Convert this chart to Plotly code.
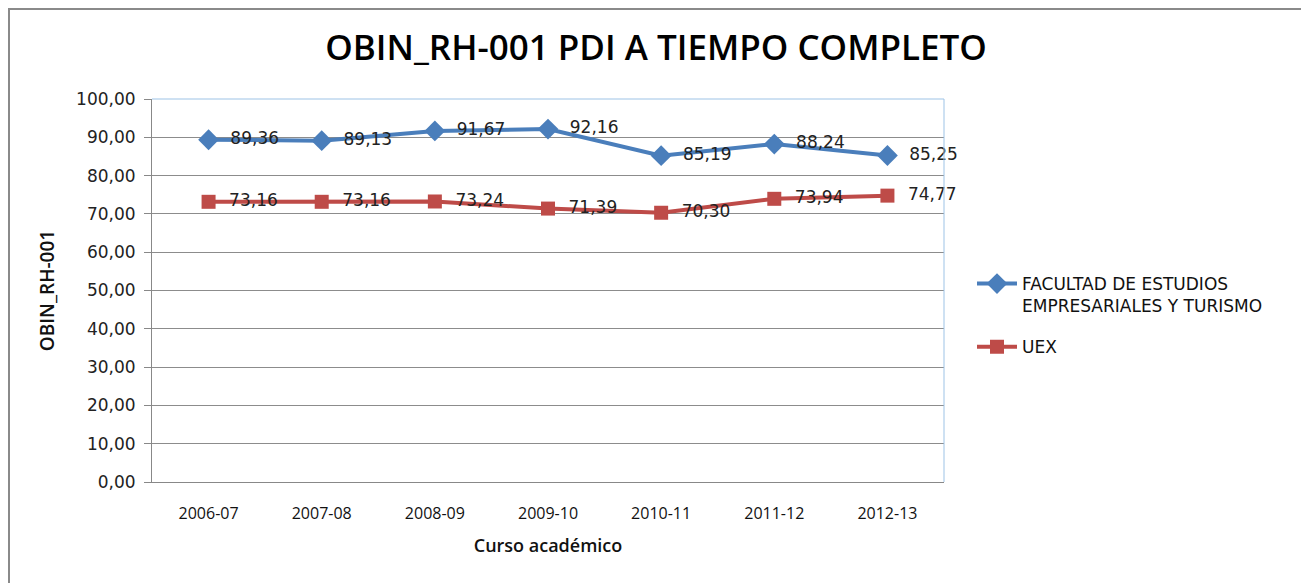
import plotly.graph_objects as go

categories = ["2006-07", "2007-08", "2008-09", "2009-10", "2010-11", "2011-12", "2012-13"]
facultad = [89.36, 89.13, 91.67, 92.16, 85.19, 88.24, 85.25]
uex = [73.16, 73.16, 73.24, 71.39, 70.30, 73.94, 74.77]
y_ticks = [0, 10, 20, 30, 40, 50, 60, 70, 80, 90, 100]

# page body margin offsets the figure by 8px
OFF = 8
W, H = 1309 - OFF, 583 - OFF
L, R, T, B = 152 - OFF, 944 - OFF, 99 - OFF, 482 - OFF

def px_x(x):
    return (x - OFF - L) / (R - L)

def px_y(y):
    return (B - (y - OFF)) / (B - T)

label_font = dict(family="DejaVu Sans", size=17, color="#222")

fig = go.Figure()
fig.add_trace(go.Scatter(
    x=categories, y=facultad, mode="lines+markers+text",
    name="FACULTAD DE ESTUDIOS<br>EMPRESARIALES Y TURISMO",
    legendgroup="a",
    line=dict(color="#4a7ebb", width=4),
    marker=dict(symbol="diamond", size=16, color="#4a7ebb"),
    texttemplate="  %{y:.2f}", textposition="middle right",
    textfont=label_font, cliponaxis=False,
))
fig.add_trace(go.Scatter(
    x=categories, y=uex, mode="lines+markers+text",
    name="UEX",
    legendgroup="b",
    line=dict(color="#be4b48", width=4),
    marker=dict(symbol="square", size=14, color="#be4b48"),
    texttemplate="  %{y:.2f}", textposition="middle right",
    textfont=label_font, cliponaxis=False,
))

fig.update_layout(
    width=W, height=H,
    margin=dict(l=L, r=W - R, t=T, b=H - B, pad=0),
    separators=",.",
    paper_bgcolor="white", plot_bgcolor="white",
    title=dict(text="OBIN_RH-001 PDI A TIEMPO COMPLETO",
               x=px_x(656), xanchor="center", xref="paper",
               y=1 - (48 - OFF) / H, yanchor="middle",
               font=dict(family="Open Sans", size=35, color="#000", weight=600)),
    xaxis=dict(type="category", range=[-0.5, 6.5],
               showgrid=False, showline=True, linecolor="#888", linewidth=1,
               ticks="", ticklabelstandoff=17,
               tickfont=dict(family="Open Sans", size=16, color="#111"),
               title=dict(text="Curso académico", standoff=16,
                          font=dict(family="Open Sans", size=18, color="#111", weight=600))),
    yaxis=dict(range=[0, 100], tickvals=y_ticks, tickformat=".2f",
               showgrid=True, gridcolor="#8c8c8c", gridwidth=1,
               showline=True, linecolor="#888", linewidth=1,
               ticks="outside", ticklen=7, tickcolor="#888", ticklabelstandoff=5,
               tickfont=dict(family="DejaVu Sans", size=17, color="#222"),
               title=dict(text="OBIN_RH-001", standoff=16,
                          font=dict(family="Open Sans", size=19, color="#111", weight=600)),
               zeroline=False),
    legend=dict(x=px_x(972), y=px_y(266), xanchor="left", yanchor="top",
                font=dict(family="DejaVu Sans", size=17, color="#111"),
                valign="top", tracegroupgap=16, bgcolor="rgba(0,0,0,0)",
                itemwidth=40),
    showlegend=True,
)

shapes = [
    dict(type="line", xref="paper", yref="paper", x0=0, x1=1, y0=1, y1=1,
         line=dict(color="#9dc3e6", width=1)),
    dict(type="line", xref="paper", yref="paper", x0=1, x1=1, y0=0, y1=1,
         line=dict(color="#9dc3e6", width=1)),
    dict(type="rect", xref="paper", yref="paper",
         x0=-L / (R - L) + 1 / (R - L), x1=px_x(1306),
         y0=B / (B - T) - 1 / (B - T), y1=px_y(600),
         line=dict(color="#8a8a8a", width=2), fillcolor="rgba(0,0,0,0)", layer="below"),
]
fig.update_layout(shapes=shapes)

fig.write_html("out.html")
